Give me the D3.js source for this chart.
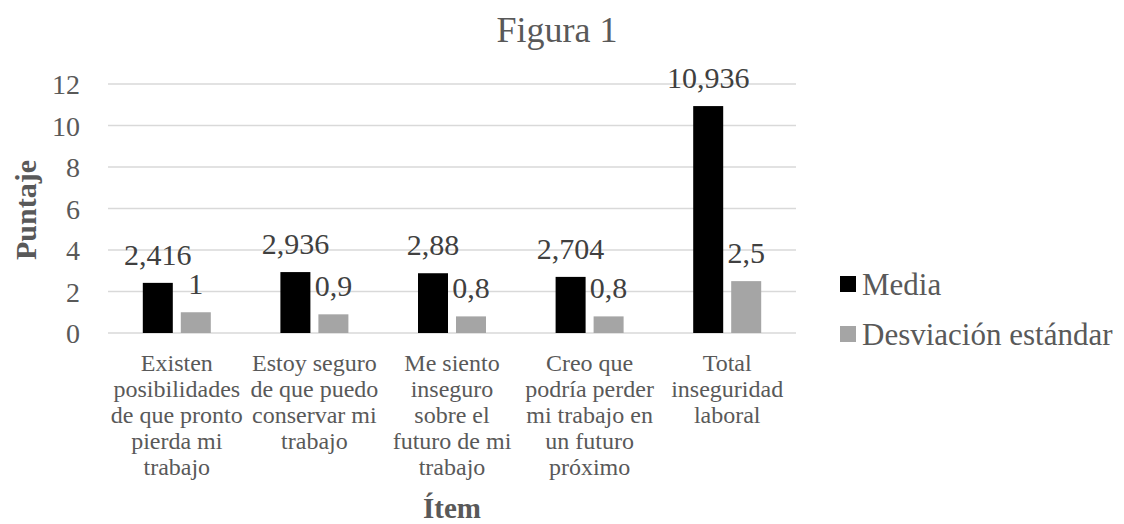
<!DOCTYPE html>
<html>
<head>
<meta charset="utf-8">
<script src="https://cdn.jsdelivr.net/npm/d3@7"></script>
<style>
  body { margin: 0; background: #fff; }
  svg text { font-family: "Liberation Serif", "Times New Roman", serif; }
</style>
</head>
<body>
<div id="chart"></div>
<script>
// Chart data
const categories = [
  ['Existen', 'posibilidades', 'de que pronto', 'pierda mi', 'trabajo'],
  ['Estoy seguro', 'de que puedo', 'conservar mi', 'trabajo'],
  ['Me siento', 'inseguro', 'sobre el', 'futuro de mi', 'trabajo'],
  ['Creo que', 'podría perder', 'mi trabajo en', 'un futuro', 'próximo'],
  ['Total', 'inseguridad', 'laboral']
];
const media = [2.416, 2.936, 2.88, 2.704, 10.936];
const desviacion = [1, 0.9, 0.8, 0.8, 2.5];
const seriesNames = ['Media', 'Desviación estándar'];
const seriesColors = ['#000000', '#a5a5a5'];
const yTicks = [0, 2, 4, 6, 8, 10, 12];

const width = 1124;
const height = 524;
const margin = { top: 84, right: 328, bottom: 191, left: 108 };

const svg = d3.select('#chart').append('svg')
  .attr('width', width)
  .attr('height', height);

const x = d3.scaleBand()
  .domain(d3.range(categories.length))
  .range([margin.left, width - margin.right]);

const y = d3.scaleLinear()
  .domain([0, 12])
  .range([height - margin.bottom, margin.top]);

const barW = 30;
const gap = 8;

// Gridlines
svg.append('g')
  .selectAll('line')
  .data(yTicks)
  .join('line')
  .attr('x1', margin.left)
  .attr('x2', width - margin.right)
  .attr('y1', d => y(d))
  .attr('y2', d => y(d))
  .attr('stroke', '#d9d9d9')
  .attr('stroke-width', 1.5);

// Y axis labels
const yAxis = svg.append('g')
  .attr('transform', `translate(${margin.left - 28},0)`)
  .call(d3.axisLeft(y).tickValues(yTicks).tickSize(0).tickPadding(0));
yAxis.select('.domain').remove();
yAxis.selectAll('text')
  .attr('font-family', '"Liberation Serif", serif')
  .attr('font-size', 28)
  .attr('fill', '#595959')
  .attr('dy', '0.34em');

// Bars
const series = [media, desviacion];
series.forEach((vals, si) => {
  const offset = si === 0 ? -barW - gap / 2 : gap / 2;
  const g = svg.append('g');
  g.selectAll('rect')
    .data(vals)
    .join('rect')
    .attr('x', (d, i) => x(i) + x.bandwidth() / 2 + offset)
    .attr('y', d => y(d))
    .attr('width', barW)
    .attr('height', d => y(0) - y(d))
    .attr('fill', seriesColors[si]);
  g.selectAll('text')
    .data(vals)
    .join('text')
    .attr('x', (d, i) => x(i) + x.bandwidth() / 2 + offset + barW / 2)
    .attr('y', d => y(d) - 18)
    .attr('text-anchor', 'middle')
    .attr('font-size', 30)
    .attr('fill', '#404040')
    .text(d => String(d).replace('.', ','));
});

// Category labels
const catG = svg.append('g');
categories.forEach((lines, i) => {
  const t = catG.append('text')
    .attr('text-anchor', 'middle')
    .attr('font-size', 24)
    .attr('fill', '#595959');
  lines.forEach((ln, j) => {
    t.append('tspan')
      .attr('x', x(i) + x.bandwidth() / 2)
      .attr('y', 371 + j * 26)
      .text(ln);
  });
});

// Title
svg.append('text')
  .attr('x', 557)
  .attr('y', 42)
  .attr('text-anchor', 'middle')
  .attr('font-size', 36)
  .attr('fill', '#595959')
  .text('Figura 1');

// Axis titles
svg.append('text')
  .attr('transform', 'translate(36,210) rotate(-90)')
  .attr('text-anchor', 'middle')
  .attr('font-size', 30)
  .attr('font-weight', 'bold')
  .attr('fill', '#595959')
  .text('Puntaje');

svg.append('text')
  .attr('x', 452)
  .attr('y', 518)
  .attr('text-anchor', 'middle')
  .attr('font-size', 29)
  .attr('font-weight', 'bold')
  .attr('fill', '#595959')
  .text('Ítem');

// Legend
const legend = svg.append('g');
seriesNames.forEach((name, i) => {
  const ly = 284 + i * 50;
  legend.append('rect')
    .attr('x', 840)
    .attr('y', ly - 8)
    .attr('width', 16)
    .attr('height', 16)
    .attr('fill', seriesColors[i]);
  legend.append('text')
    .attr('x', 862)
    .attr('y', ly)
    .attr('dy', '0.34em')
    .attr('font-size', 31)
    .attr('fill', '#595959')
    .text(name);
});
</script>
</body>
</html>
